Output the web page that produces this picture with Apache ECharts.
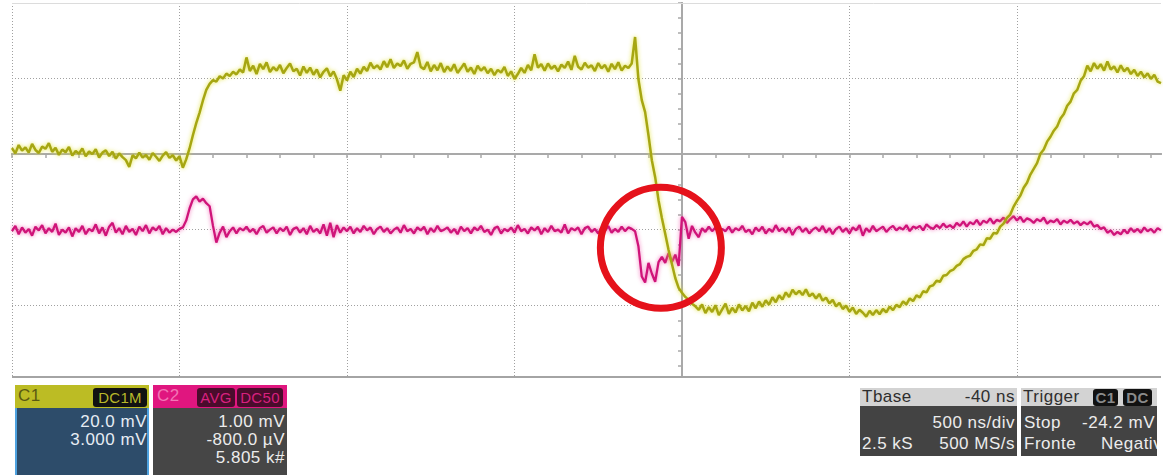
<!DOCTYPE html>
<html>
<head>
<meta charset="utf-8">
<script src="https://cdn.jsdelivr.net/npm/echarts@6/dist/echarts.min.js"></script>
<style>
  html, body { margin: 0; padding: 0; background: #fff; }
  body { width: 1171px; height: 475px; position: relative; overflow: hidden;
         font-family: "Liberation Sans", Arial, sans-serif; }
  #scope { position: absolute; left: 0; top: 0; width: 1171px; height: 380px; }
  .box { position: absolute; box-sizing: content-box; }
  .t { position: absolute; font-size: 17px; letter-spacing: 0.5px; line-height: 20px; white-space: nowrap; }
  .r { text-align: right; }
  .badge { position: absolute; height: 19px; line-height: 19px; font-size: 15px; text-align: center;
           border-radius: 3px; letter-spacing: 0.3px; }
</style>
</head>
<body>
<div id="scope"></div>

<!-- Channel 1 readout -->
<div class="box" style="left:15px;top:385px;width:134px;height:23px;background:#bcbc24"></div>
<div class="t" style="left:18px;top:386px;color:#5a5a12">C1</div>
<div class="badge" style="left:93px;top:388px;width:54px;background:#121212;color:#b8b82a">DC1M</div>
<div class="box" style="left:15px;top:408px;width:130px;height:67px;background:#2d4c6a;border:2px solid #4ea2e0;border-top:none"></div>
<div class="t r" style="left:15px;width:132px;top:412px;color:#e6edf4">20.0 mV</div>
<div class="t r" style="left:15px;width:132px;top:430px;color:#e6edf4">3.000 mV</div>

<!-- Channel 2 readout -->
<div class="box" style="left:153px;top:385px;width:134px;height:23px;background:#e0167f"></div>
<div class="t" style="left:157px;top:386px;color:#f277b6">C2</div>
<div class="badge" style="left:197px;top:388px;width:38px;background:#4a0c2c;color:#d8207f">AVG</div>
<div class="badge" style="left:237px;top:388px;width:46px;background:#4a0c2c;color:#d8207f">DC50</div>
<div class="box" style="left:153px;top:408px;width:134px;height:67px;background:#464646"></div>
<div class="t r" style="left:153px;width:132px;top:412px;color:#ececec">1.00 mV</div>
<div class="t r" style="left:153px;width:132px;top:430px;color:#ececec">-800.0 µV</div>
<div class="t r" style="left:153px;width:132px;top:448px;color:#ececec">5.805 k#</div>

<!-- Timebase readout -->
<div class="box" style="left:860px;top:388px;width:157px;height:18px;background:#d3d3d3"></div>
<div class="t" style="left:862px;top:387px;color:#2e2e2e">Tbase</div>
<div class="t r" style="left:860px;width:155px;top:387px;color:#2e2e2e">-40 ns</div>
<div class="box" style="left:860px;top:406px;width:157px;height:50px;background:#434343"></div>
<div class="t r" style="left:860px;width:155px;top:413px;color:#ececec">500 ns/div</div>
<div class="t" style="left:862px;top:434px;color:#ececec">2.5 kS</div>
<div class="t r" style="left:860px;width:155px;top:434px;color:#ececec">500 MS/s</div>

<!-- Trigger readout -->
<div class="box" style="left:1021px;top:388px;width:136px;height:18px;background:#d3d3d3"></div>
<div class="t" style="left:1023px;top:387px;color:#2e2e2e">Trigger</div>
<div class="badge" style="left:1093px;top:389px;width:25px;height:17px;line-height:17px;background:#111;color:#8a8a8a;font-weight:bold">C1</div>
<div class="badge" style="left:1123px;top:389px;width:29px;height:17px;line-height:17px;background:#111;color:#8a8a8a;font-weight:bold">DC</div>
<div class="box" style="left:1021px;top:406px;width:136px;height:50px;background:#434343;overflow:hidden">
  <div class="t" style="left:3px;top:7px;color:#ececec">Stop</div>
  <div class="t r" style="left:0;width:134px;top:7px;color:#ececec">-24.2 mV</div>
  <div class="t" style="left:3px;top:28px;color:#ececec">Fronte</div>
  <div class="t" style="left:80px;top:28px;color:#ececec">Negativo</div>
</div>

<script>
// Sample timing: first sample at -2000 ns, one sample every 10 ns
const T0 = -2000;
const DT = 10;

// Channel 1 (yellow), mV relative to the centre graticule line
const c1 = [
  1.6, 0.2, 2.4, 0.9, 1.8, 0.4, 2.7, 1.1, 0.3, 2.0,
  1.4, 2.9, 0.6, 1.7, -0.2, 1.2, 0.5, 1.9, -0.4, 0.8,
  0.1, 1.5, -0.6, 0.7, 0.0, 1.3, -0.9, 0.4, 1.0, -0.5,
  0.6, -1.2, 0.2, -0.8, -1.6, -3.4, -0.3, -1.1, 0.4, -0.9,
  -0.2, -1.5, 0.3, -0.7, -1.8, -0.4, 0.5, -1.0, -0.3, -1.7,
  -0.6, -3.6, -1.4, 1.5, 5.0, 8.2, 11.0, 14.2, 17.0, 18.6,
  19.6, 19.2, 20.6, 20.0, 21.3, 20.7, 21.8, 21.1, 22.4, 21.6,
  25.6, 22.0, 23.4, 21.2, 23.9, 22.5, 24.3, 21.7, 23.0, 22.1,
  23.6, 21.4, 22.8, 24.0, 21.9, 22.6, 20.8, 23.2, 21.5, 22.9,
  21.0, 22.4, 20.3, 21.8, 22.7, 20.6, 21.9, 19.8, 16.8, 20.9,
  19.5, 21.8, 20.4, 22.6, 21.3, 23.1, 22.0, 24.2, 22.7, 23.5,
  22.4, 24.6, 23.0, 25.1, 22.8, 24.0, 23.3, 24.8, 22.6, 23.9,
  24.3, 27.0, 23.1, 22.5, 24.4, 21.9, 23.6, 22.2, 24.1, 21.7,
  23.2, 22.0, 23.8, 21.5, 22.7, 24.0, 21.8, 22.9, 21.2, 23.4,
  22.1, 23.0, 21.4, 22.6, 20.9, 22.3, 21.6, 23.1, 20.7, 21.9,
  19.9, 21.2, 22.8, 21.5, 23.6, 22.2, 26.4, 22.9, 23.8, 22.1,
  24.0, 22.6, 23.4, 21.9, 23.7, 22.8, 24.5, 22.3, 26.0, 23.1,
  22.4, 24.2, 22.9, 23.5, 22.0, 24.1, 22.7, 23.6, 21.8, 23.9,
  22.5, 24.3, 22.1, 23.4, 22.8, 24.0, 31.0, 19.8, 14.3, 11.1,
  5.0, -1.6, -6.1, -12.2, -16.9, -21.1, -25.4, -29.1, -32.8, -35.4,
  -36.7, -37.8, -38.6, -39.6, -40.3, -41.2, -39.8, -42.1, -40.5, -41.8,
  -40.0, -42.6, -41.1, -39.6, -42.3, -40.7, -41.9, -39.8, -41.4, -40.2,
  -41.6, -39.3, -40.8, -39.0, -40.4, -38.7, -39.9, -37.9, -39.2, -37.4,
  -38.5, -36.6, -37.8, -35.9, -37.1, -36.2, -37.3, -35.8, -37.6, -36.9,
  -38.2, -37.0, -38.8, -38.0, -39.5, -38.6, -40.3, -39.4, -41.0, -40.1,
  -41.7, -40.6, -42.3, -41.2, -42.0, -43.0, -41.5, -42.6, -41.3, -42.4,
  -41.0, -41.9, -40.4, -41.3, -39.9, -40.5, -39.0, -39.8, -38.2, -38.9,
  -37.4, -37.9, -36.3, -36.6, -35.0, -34.7, -33.5, -33.8, -32.2, -32.0,
  -31.0, -30.6, -29.6, -29.1, -27.8, -27.2, -26.9, -25.6, -25.2, -23.9,
  -24.1, -22.3, -22.4, -20.9, -21.0, -19.2, -18.4, -16.9, -16.0, -13.9,
  -12.4, -11.0, -8.9, -7.6, -5.4, -3.9, -2.4, 0.1, 1.2, 3.3,
  4.6, 6.2, 7.3, 9.4, 10.6, 12.8, 13.9, 16.1, 17.0, 19.4,
  20.6, 23.4, 21.9, 24.1, 22.6, 23.8, 22.1, 24.5, 22.4, 23.2,
  21.6, 23.5, 21.9, 22.8, 21.2, 22.3, 20.7, 21.8, 20.3, 21.4,
  19.9, 21.0, 19.2, 18.8
];

// Channel 2 (magenta, averaged), mV relative to its own reference line
const c2 = [
  -0.02, 0.05, -0.06, 0.03, -0.04, 0.01, -0.08, 0.04, -0.01, 0.06,
  -0.05, 0.02, -0.03, 0.08, -0.07, 0.00, -0.04, 0.03, -0.09, 0.02,
  -0.03, 0.05, -0.06, 0.01, -0.02, 0.07, -0.05, 0.03, -0.08, 0.04,
  0.09, -0.04, 0.02, -0.06, 0.05, -0.03, 0.01, -0.07, 0.04, -0.02,
  0.06, -0.05, 0.03, -0.01, 0.05, -0.06, 0.02, -0.04, 0.00, -0.03,
  0.01, 0.03, 0.12, 0.28, 0.40, 0.44, 0.37, 0.41, 0.35, 0.31,
  0.05, -0.17, -0.04, 0.04, -0.10, -0.02, 0.03, -0.05, 0.02, -0.01,
  0.04, -0.03, 0.01, -0.06, 0.02, 0.05, -0.04, 0.00, 0.03, -0.05,
  0.02, -0.02, 0.04, -0.07, 0.01, 0.03, -0.04, 0.02, -0.06, 0.05,
  -0.03, 0.01, -0.05, 0.07, -0.08, 0.09, -0.10, 0.06, -0.04, 0.03,
  -0.02, 0.04, -0.05, 0.02, -0.03, 0.05, -0.01, 0.03, -0.06, 0.01,
  0.04, -0.03, 0.02, -0.05, 0.00, 0.03, -0.04, 0.06, -0.02, 0.01,
  -0.05, 0.03, -0.01, 0.04, -0.06, 0.02, -0.03, 0.05, -0.02, 0.00,
  0.03, -0.04, 0.01, -0.06, 0.04, -0.02, 0.02, -0.05, 0.03, -0.01,
  0.05, -0.03, 0.00, -0.07, 0.02, 0.04, -0.05, 0.01, -0.02, 0.03,
  -0.04, 0.06, -0.02, 0.01, -0.05, 0.03, -0.01, 0.04, -0.06, 0.02,
  -0.03, 0.05, -0.02, 0.00, -0.04, 0.07, -0.05, 0.02, -0.01, 0.03,
  -0.06, 0.02, 0.04, -0.03, 0.01, -0.05, 0.03, -0.02, 0.05, -0.04,
  0.01, -0.03, 0.04, -0.02, 0.03, 0.01, -0.02, -0.22, -0.62, -0.70,
  -0.44, -0.58, -0.69, -0.43, -0.36, -0.44, -0.31, -0.43, -0.33, -0.48,
  0.17, 0.10, -0.12, 0.05, -0.04, -0.10, 0.02, -0.03, 0.04, -0.02,
  0.03, -0.05, 0.01, -0.02, 0.04, -0.04, 0.02, -0.01, 0.05, -0.03,
  0.00, -0.06, 0.03, -0.02, 0.04, -0.05, 0.01, -0.03, 0.06, -0.02,
  0.02, -0.04, 0.03, -0.07, 0.01, 0.04, -0.03, 0.02, -0.05, 0.00,
  0.03, -0.02, 0.05, -0.04, 0.02, -0.06, 0.01, 0.04, -0.03, 0.02,
  -0.05, 0.03, -0.01, 0.06, -0.08, 0.02, -0.03, 0.05, -0.02, 0.01,
  0.04, -0.03, 0.02, 0.05, -0.01, 0.03, 0.00, 0.06, -0.02, 0.04,
  0.02, 0.05, -0.01, 0.07, 0.03, 0.01, 0.06, 0.02, 0.08, 0.03,
  0.06, 0.02, 0.09, 0.05, 0.11, 0.04, 0.10, 0.07, 0.13, 0.06,
  0.12, 0.09, 0.15, 0.08, 0.13, 0.11, 0.16, 0.09, 0.14, 0.18,
  0.12, 0.17, 0.10, 0.15, 0.13, 0.09, 0.14, 0.11, 0.16, 0.08,
  0.12, 0.10, 0.14, 0.07, 0.12, 0.09, 0.13, 0.08, 0.11, 0.06,
  0.10, 0.07, 0.11, 0.04, 0.06, 0.01, 0.03, -0.04, -0.01, -0.07,
  -0.03, -0.06, 0.00, -0.05, 0.02, -0.03, 0.01, -0.04, 0.03, -0.02,
  0.01, -0.04, 0.02, -0.01
];

// Visible window: time (ns) and the two vertical ranges (5 divisions tall)
const timeRange = [-2000, 1430];
const timePerDiv = 500;
const c1Range = [-59, 40];      // 20 mV/div
const c2Range = [-1.95, 3.0];   // 1 mV/div
// Dotted horizontal graticule levels, in channel 1 units
const c1GridLevels = [20, -20, -40];

// Highlight ring around the channel 2 disturbance (time ns, C2 mV)
const ringCenter = [-63, -0.24];

const toPairs = arr => arr.map((v, i) => [T0 + i * DT, v]);

// Fine graticule ticks: 5 per division on both centre lines
const timeTicks = [];
for (let t = timeRange[0]; t <= timeRange[1]; t += timePerDiv / 5) timeTicks.push(t);
const c1Ticks = [];
for (let v = -56; v <= c1Range[1]; v += 4) c1Ticks.push(v);

const GRAT = '#a9a9a9';
const DOT = { color: '#a0a0a0', type: [1, 2], width: 1 };

// Centre horizontal line with fine ticks (one axis per tick side)
const xCentre = inside => ({
  type: 'value', min: timeRange[0], max: timeRange[1], interval: timePerDiv,
  axisLabel: { show: false }, splitLine: { show: false },
  axisLine: { show: true, onZero: true, onZeroAxisIndex: 0, lineStyle: { color: GRAT, width: 2 } },
  axisTick: { show: true, inside: inside, length: 4, customValues: timeTicks, lineStyle: { color: GRAT, width: 1.5 } }
});
// Centre vertical line with fine ticks
const yCentre = inside => ({
  type: 'value', min: c1Range[0], max: c1Range[1],
  axisLabel: { show: false }, splitLine: { show: false },
  axisLine: { show: true, onZero: true, onZeroAxisIndex: 0, lineStyle: { color: GRAT, width: 2 } },
  axisTick: { show: true, inside: inside, length: 4, customValues: c1Ticks, lineStyle: { color: GRAT, width: 1.5 } }
});

const chart = echarts.init(document.getElementById('scope'), null, { renderer: 'canvas' });
chart.setOption({
  animation: false,
  backgroundColor: '#fff',
  grid: { left: 12, top: 3, width: 1149, height: 374 },
  xAxis: [
    xCentre(false),
    xCentre(true),
    // division lines, one per 500 ns
    {
      type: 'value', min: timeRange[0], max: timeRange[1], interval: timePerDiv,
      axisLabel: { show: false }, axisTick: { show: false },
      axisLine: { show: false, onZero: false },
      splitLine: { show: true, showMaxLine: false, lineStyle: DOT }
    }
  ],
  yAxis: [
    yCentre(false),
    { type: 'value', min: c2Range[0], max: c2Range[1], show: false },
    yCentre(true)
  ],
  series: [
    {
      name: 'C2', type: 'line', xAxisIndex: 0, yAxisIndex: 1,
      data: toPairs(c2), symbol: 'none', z: 3, silent: true,
      lineStyle: { color: '#cf1479', width: 2.3, shadowColor: 'rgba(240,80,170,0.8)', shadowBlur: 4 },
      markPoint: {
        z: 10, silent: true, symbol: 'circle', symbolSize: 121,
        itemStyle: { color: 'rgba(0,0,0,0)', borderColor: '#e5121b', borderWidth: 7 },
        label: { show: false },
        data: [{ coord: ringCenter }]
      }
    },
    {
      name: 'C1', type: 'line', xAxisIndex: 0, yAxisIndex: 0,
      data: toPairs(c1), symbol: 'none', z: 4, silent: true,
      lineStyle: { color: '#a6a612', width: 2.5, shadowColor: 'rgba(225,225,50,0.9)', shadowBlur: 4 },
      markLine: {
        z: 1, silent: true, symbol: ['none', 'none'], label: { show: false },
        emphasis: { disabled: true },
        data: c1GridLevels.map(v => ({ yAxis: v, lineStyle: DOT }))
          .concat([
            { yAxis: c1Range[1], lineStyle: { color: '#dcdcdc', type: 'solid', width: 1 } },
            { yAxis: c1Range[0], lineStyle: { color: '#a4a4a4', type: 'solid', width: 2 } }
          ])
      }
    }
  ]
});
</script>
</body>
</html>
